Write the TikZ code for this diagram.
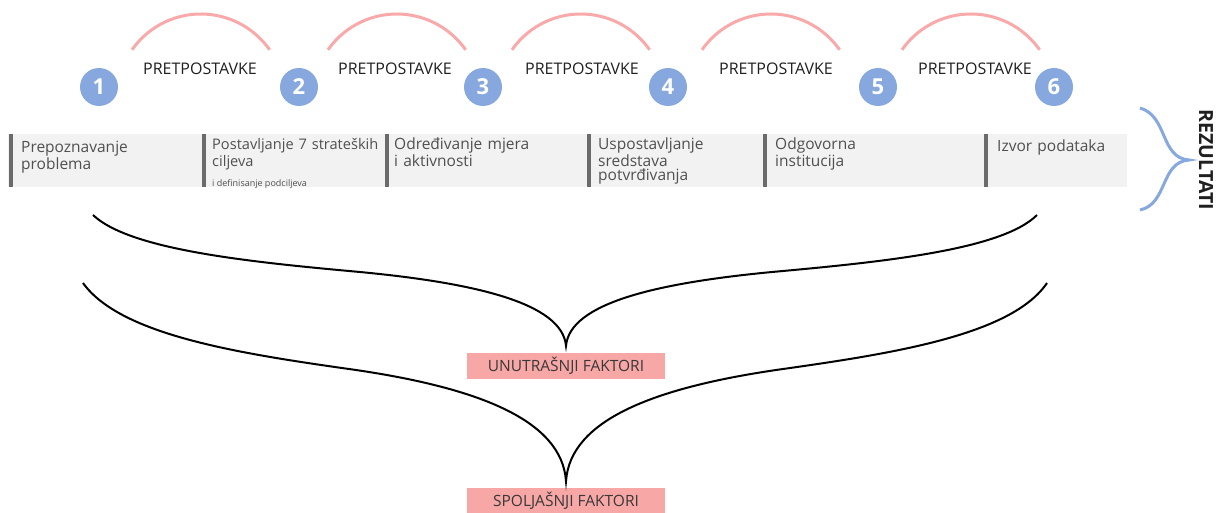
\documentclass[tikz,border=0pt]{standalone}
\usepackage{fontspec}
\setmainfont{Open Sans}
\usetikzlibrary{calc}

\definecolor{circblue}{HTML}{86A8DE}
\definecolor{arcpink}{HTML}{F9A9A9}
\definecolor{boxpink}{HTML}{F8A7A7}
\definecolor{bandgray}{HTML}{F2F2F2}
\definecolor{bargray}{HTML}{6B6B6B}
\definecolor{stepgray}{HTML}{505050}
\definecolor{labeldark}{HTML}{1F1F1F}
\definecolor{factordark}{HTML}{383838}

\tikzset{
  stepnum/.style={circle, fill=circblue, minimum size=38pt, inner sep=0pt, text=white, font=\fontsize{22}{22}\selectfont\bfseries},
  pretarc/.style={draw=arcpink, line width=3pt},
  pretlabel/.style={text=labeldark, inner sep=0pt, font=\fontsize{16}{16}\selectfont},
  steptext/.style={anchor=base west, inner sep=0pt, text width=192pt, align=left, text=stepgray, font=\fontsize{15.5}{17}\selectfont},
  subtext/.style={anchor=base west, inner sep=0pt, text=stepgray, font=\fontsize{9}{9}\selectfont},
  stepbar/.style={draw=bargray, line width=4pt},
  factorbox/.style={fill=boxpink, minimum width=198pt, minimum height=26pt, inner sep=0pt, text=factordark, font=\fontsize{15.5}{15.5}\selectfont},
  brace/.style={draw=black, line width=2pt},
  resbrace/.style={draw=circblue, line width=3pt}
}

\begin{document}
\begin{tikzpicture}[x=1pt, y=-1pt]
  \useasboundingbox (0,0) rectangle (1222,513);

  % koraci i pretpostavke
  \foreach \n/\x in {1/99, 2/299, 3/483, 4/668, 5/878, 6/1054}
    \node [stepnum] (c\n) at (\x,87) {\n};
  \foreach \x in {132, 328, 512, 702, 902}
    \draw [pretarc] (\x,49.8) arc [start angle=-145, end angle=-35, radius=84];
  \foreach \n/\x in {1/200, 2/395, 3/582, 4/776, 5/975}
    \node [pretlabel] (p\n) at (\x,68.5) {PRETPOSTAVKE};

  % traka sa koracima
  \node [fill=bandgray, anchor=north west, minimum width=1119pt, minimum height=53pt, inner sep=0pt] (band) at (8,134) {};
  \foreach \x in {10.5, 204, 387, 588.5, 765, 985.5}
    \draw [stepbar] (\x,134) -- (\x,186.5);
  \node [steptext] (t1) at (21,153) {Prepoznavanje\\problema};
  \node [steptext, font=\fontsize{14.6}{17}\selectfont] (t2) at (212,150) {Postavljanje 7 strateških\\ciljeva};
  \node [subtext] (t2s) at (212,186) {i definisanje podciljeva};
  \node [steptext] (t3) at (394,150) {Određivanje mjera\\i aktivnosti};
  \node [steptext, font=\fontsize{15.5}{13.5}\selectfont] (t4) at (598,150) {Uspostavljanje\\sredstava\\potvrđivanja};
  \node [steptext] (t5) at (775,150) {Odgovorna\\institucija};
  \node [steptext] (t6) at (997,152) {Izvor podataka};

  % rezultati
  \node [rotate=-90, text=labeldark, inner sep=0pt, font=\fontsize{19.5}{19.5}\selectfont\bfseries] (rez) at (1206,160) {REZULTATI};
  \coordinate (rb-t) at (1140,108);
  \coordinate (rb-tip) at (1189,160);
  \coordinate (rb-b) at (1140,210);
  \draw [resbrace] (rb-t) .. controls (1168,116) and (1160,158) .. (rb-tip) .. controls (1160,162) and (1168,204) .. (rb-b);

  % faktori
  \node [factorbox] (unutr) at (566,366) {UNUTRAŠNJI FAKTORI};
  \node [factorbox] (spolj) at (566,500.5) {SPOLJAŠNJI FAKTORI};

  \coordinate (in-l) at (93,215);
  \coordinate (in-r) at (1037,215);
  \coordinate (in-tip) at ($(unutr.north)+(0,-7)$);
  \draw [brace] (in-l) .. controls (130,250) and (250,262) .. (360,272) .. controls (475,283) and (562,303) .. (in-tip)
    .. controls (570,303) and (657,283) .. (772,272) .. controls (882,262) and (1002,250) .. (in-r);

  \coordinate (sp-l) at (83,283);
  \coordinate (sp-r) at (1047,283);
  \coordinate (sp-tip) at ($(spolj.north)+(0,-6)$);
  \draw [brace] (sp-l) .. controls (121,336) and (243,354) .. (356,370) .. controls (478,388) and (562,420) .. (sp-tip)
    .. controls (570,420) and (654,388) .. (776,370) .. controls (889,354) and (1011,336) .. (sp-r);
\end{tikzpicture}
\end{document}
